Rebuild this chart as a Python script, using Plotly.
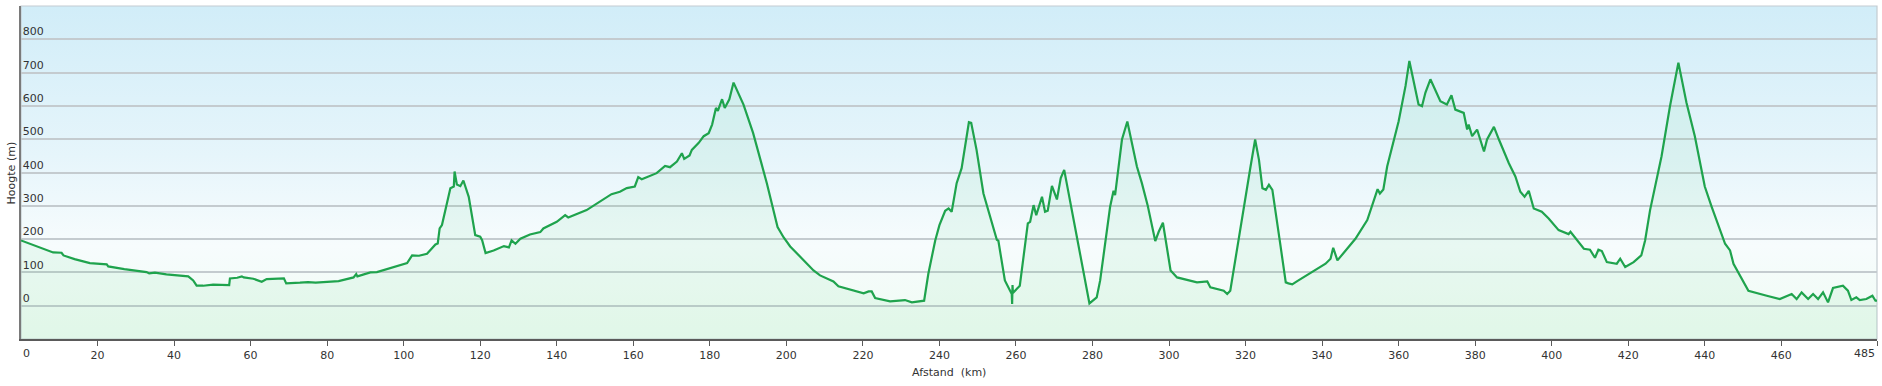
import plotly.graph_objects as go

afstand_km = [
    0, 3, 6, 8.4, 10.6, 11.1, 14, 18, 22.4, 22.8, 27, 32.8, 33.5, 35, 38, 43.7, 45, 45.9,
    47.6, 50.2, 54.4, 54.6, 56.5, 57.7, 58.2, 60.7, 62.9, 64.2, 68.7, 69.3, 72.9, 75, 77,
    80, 83, 86.9, 87.6, 87.9, 91.3, 93, 97.4, 100.9, 102.2, 104, 106.1, 108.3, 108.9,
    109.4, 110, 110.9, 112.2, 113.1, 113.3, 113.9, 114.8, 115.6, 117, 118.7, 120, 120.5,
    121.4, 123.5, 126.2, 127.5, 128.2, 129.2, 130.5, 133, 135.7, 136.5, 140, 142.2, 143,
    147.8, 150.4, 154.3, 156.5, 158.3, 160.4, 161.3, 162.2, 166.1, 168.3, 169.6, 171.4,
    172.7, 173.3, 174.7, 175.3, 177.1, 178.4, 179.7, 180.6, 181.6, 182.1, 183.2, 183.9,
    185.1, 186.2, 188.8, 191.3, 194.9, 197.7, 199.3, 201, 203.6, 207.1, 208.8, 212.3,
    213.6, 217, 220.2, 221.5, 222.3, 223.2, 227.1, 231, 232.8, 236, 237.1, 238.9, 240,
    241.5, 242.4, 243.2, 244.5, 245.8, 246.7, 247.7, 248.3, 249.7, 251.5, 252.8, 255,
    255.4, 257.1, 258.9, 259.0, 259.1, 259.2, 261, 263.1, 263.7, 264.6, 265.3, 266.8,
    267.6, 268.3, 269.4, 270.7, 271.7, 272.6, 275.5, 279.2, 281.1, 282, 284.6, 285.5,
    285.9, 287.7, 289.1, 291.6, 292.9, 294.4, 296.4, 297.3, 298.4, 300.4, 302.1, 307.3,
    310, 310.8, 314.3, 315.2, 316, 317.4, 318.7, 320.4, 321.3, 322.5, 323.5, 324.4,
    325.3, 326.1, 327, 329, 330.5, 331.2, 332.2, 333.5, 337.4, 340.9, 342.2, 342.9, 344,
    346.1, 348.7, 351.8, 353.5, 354.5, 355.1, 356, 357, 358.7, 360, 361.8, 362.8, 365.2,
    366.1, 367, 368.3, 370.9, 372.6, 373.8, 374.8, 377, 377.9, 378.3, 379.2, 380.5,
    382.3, 383.1, 384.9, 386.2, 388.8, 390.5, 391.8, 392.9, 394, 395.3, 397.4, 399.2,
    401.8, 404.4, 404.9, 408.4, 410, 411.3, 412.2, 413.1, 414.4, 417, 417.9, 419.2,
    421.4, 423.4, 424.4, 425.7, 427.9, 428.7, 430.9, 433.1, 435.2, 437.4, 440, 441.8,
    445.3, 446.6, 447.5, 451.4, 456.2, 459.6, 462.7, 464, 465.3, 467, 468.3, 469.6,
    470.9, 472.2, 473.5, 476.1, 477.4, 478.3, 479.6, 480.5, 482.2, 483.8, 484.6, 485,
]
hoogte_m = [
    196, 183, 170, 160, 159, 151, 140, 128, 124, 118, 110, 101, 97, 99, 94, 88, 76, 60,
    60, 63, 62, 82, 84, 88, 85, 81, 72, 80, 82, 67, 69, 71, 69,
    71, 74, 85, 95, 88, 100, 101, 116, 128, 151, 150, 156, 184, 187,
    232, 242, 287, 353, 358, 403, 364, 359, 376, 327, 212, 207, 197,
    158, 166, 179, 175, 196, 186, 201, 214, 221, 232, 252, 272, 265,
    287, 307, 335, 342, 353, 358, 386, 380, 398, 420, 416, 433,
    458, 441, 451, 468, 489, 509, 518, 544, 594, 585, 620, 594,
    620, 670, 604, 519, 368, 236, 205, 178, 146, 106, 91, 73,
    58, 48, 37, 43, 43, 23, 13, 17, 10, 15, 96, 196, 242,
    285, 292, 282, 368, 413, 478, 551, 549, 468, 337, 287, 198,
    195, 76, 35, 5, 62, 38, 60, 247, 252, 302, 272, 327,
    282, 285, 360, 319, 383, 408, 232, 7, 25, 76, 297, 345,
    332, 499, 553, 418, 368, 302, 194, 222, 249, 106, 85, 70,
    73, 55, 45, 35, 45, 146, 237, 357, 418, 499, 438, 353,
    348, 363, 348, 190, 70, 67, 64, 74, 101, 126, 141, 174, 136,
    166, 201, 257, 317, 350, 337, 349, 418, 499, 554, 660, 735, 604,
    599, 640, 680, 614, 604, 632, 589, 579, 529, 544, 509, 529,
    463, 499, 537, 499, 428, 388, 342, 327, 345, 292, 282, 262,
    227, 215, 222, 171, 168, 144, 168, 164, 131, 126, 141, 116,
    131, 151, 196, 287, 413, 449, 599, 730, 610, 509, 358, 297,
    186, 166, 126, 45, 30, 20, 35, 20, 40, 20, 35, 20,
    40, 10, 53, 60, 45, 17, 25, 17, 20, 30, 15, 15,
]

x_tickvals = [0, 20, 40, 60, 80, 100, 120, 140, 160, 180, 200, 220, 240, 260, 280, 300,
              320, 340, 360, 380, 400, 420, 440, 460, 485]
y_tickvals = [0, 100, 200, 300, 400, 500, 600, 700, 800]
y_min, y_max = -100, 900
x_min, x_max = 0, 485

FONT = "DejaVu Sans"
TXT = "#333333"

# inner tick labels are regular ticks; the two end labels are aligned inward
x_ticktext = [str(v) if v not in (x_min, x_max) else "" for v in x_tickvals]

bg_svg = (
    "data:image/svg+xml;utf8,"
    "<svg xmlns='http://www.w3.org/2000/svg' width='10' height='100' preserveAspectRatio='none'>"
    "<defs><linearGradient id='g' x1='0' y1='0' x2='0' y2='1'>"
    "<stop offset='0' stop-color='%23d1edf8'/>"
    "<stop offset='0.45' stop-color='%23e6f5fb'/>"
    "<stop offset='0.72' stop-color='%23f7fcfd'/>"
    "<stop offset='1' stop-color='%23eefbf2'/>"
    "</linearGradient></defs>"
    "<rect width='10' height='100' fill='url(%23g)'/></svg>"
)

fig = go.Figure()
fig.add_trace(go.Scatter(
    x=[afstand_km[0], afstand_km[-1]], y=[y_min, y_min], mode="lines",
    line=dict(width=0), hoverinfo="skip", showlegend=False,
))
fig.add_trace(go.Scatter(
    x=afstand_km, y=hoogte_m, mode="lines",
    line=dict(color="#1fa34d", width=2.2),
    fill="tonexty", fillcolor="rgba(70,205,120,0.08)",
    showlegend=False,
))

fig.update_layout(
    width=1882, height=386,
    margin=dict(l=21, r=5, t=6, b=47, autoexpand=False),
    paper_bgcolor="white",
    plot_bgcolor="rgba(0,0,0,0)",
    font=dict(family=FONT, size=11, color=TXT),
    images=[dict(source=bg_svg, xref="paper", yref="paper", x=0, y=1,
                 sizex=1, sizey=1, xanchor="left", yanchor="top",
                 sizing="stretch", layer="below")],
    shapes=[dict(type="rect", xref="paper", yref="paper", x0=0, x1=1, y0=0, y1=1,
                 line=dict(color="#c3ccd1", width=1.2), layer="below")],
    xaxis=dict(
        range=[x_min, x_max], tickvals=x_tickvals, ticktext=x_ticktext,
        showgrid=False, zeroline=False, showline=True, linecolor="#5a5a5a", linewidth=2,
        ticks="outside", ticklen=5, tickcolor="#5a5a5a", tickwidth=1,
        tickfont=dict(family=FONT, size=11, color=TXT), automargin=False,
    ),
    yaxis=dict(
        range=[y_min, y_max], tickvals=y_tickvals,
        showgrid=True, gridcolor="#c4cbcf", gridwidth=1.5, zeroline=False,
        showline=True, linecolor="#7a7a7a", linewidth=2,
        ticks="", ticklabelposition="inside top",
        tickfont=dict(family=FONT, size=11, color=TXT), automargin=False,
    ),
    annotations=[
        dict(text=str(x_min), xref="x", yref="paper", x=x_min, y=0, yshift=-14,
             xanchor="left", yanchor="middle", showarrow=False,
             font=dict(family=FONT, size=11, color=TXT)),
        dict(text=str(x_max), xref="x", yref="paper", x=x_max, y=0, yshift=-14,
             xanchor="right", yanchor="middle", showarrow=False,
             font=dict(family=FONT, size=11, color=TXT)),
        dict(text="Hoogte (m)", xref="paper", yref="paper", x=-0.0049, y=0.5,
             xanchor="center", yanchor="middle", textangle=-90, showarrow=False,
             font=dict(family=FONT, size=11, color=TXT)),
        dict(text="Afstand\u00a0 (km)", xref="paper", yref="paper", x=0.5, y=-0.1,
             xanchor="center", yanchor="middle", showarrow=False,
             font=dict(family=FONT, size=11, color=TXT)),
    ],
)

fig.write_html(
    "out.html",
    config={"displayModeBar": False},
    post_script="document.body.style.margin='0px';document.body.style.overflow='hidden';",
)
